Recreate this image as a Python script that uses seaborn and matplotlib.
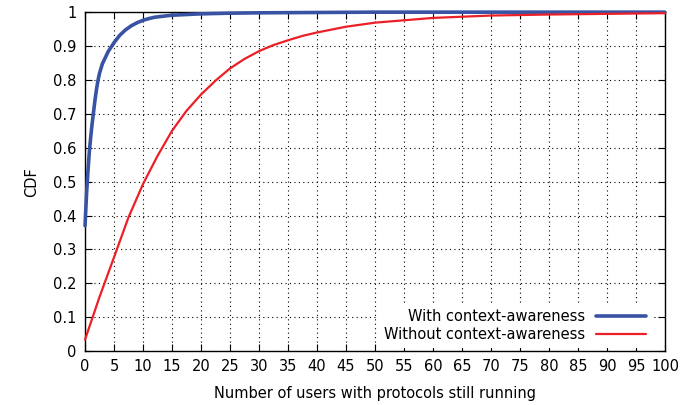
import numpy as np
import pandas as pd
import seaborn as sns
import matplotlib
matplotlib.use("Agg")
import matplotlib.pyplot as plt

# CDF
x_with = [0, 0.25, 0.5, 0.75, 1, 1.25, 1.5, 1.75, 2, 2.25, 2.5, 3, 3.5, 4, 5, 6, 7,
          8, 9, 10, 11, 12, 13, 15, 20, 25, 30, 40, 50, 60, 80, 100]
cdf_with = [0.37, 0.46, 0.53, 0.59, 0.635, 0.675, 0.71, 0.745, 0.775, 0.80, 0.82,
            0.848, 0.866, 0.884, 0.91, 0.932, 0.948, 0.96, 0.969, 0.976, 0.981,
            0.985, 0.987, 0.991, 0.995, 0.997, 0.998, 0.999, 1.0, 1.0, 1.0, 1.0]

x_without = [0, 2.5, 5, 7.5, 10, 12.5, 15, 17.5, 20, 22.5, 25, 27.5, 30, 32.5,
             35, 37.5, 40, 45, 50, 55, 60, 70, 80, 90, 100]
cdf_without = [0.034, 0.16, 0.277, 0.395, 0.493, 0.576, 0.65, 0.709, 0.757, 0.798,
               0.834, 0.862, 0.885, 0.903, 0.917, 0.93, 0.94, 0.957, 0.969, 0.976,
               0.983, 0.99, 0.993, 0.995, 0.997]

x_ticks = list(range(0, 101, 5))
y_ticks = [0, 0.1, 0.2, 0.3, 0.4, 0.5, 0.6, 0.7, 0.8, 0.9, 1.0]
y_tick_labels = ["0", "0.1", "0.2", "0.3", "0.4", "0.5", "0.6", "0.7", "0.8", "0.9", "1"]

df_with = pd.DataFrame({"users": x_with, "cdf": cdf_with})
df_without = pd.DataFrame({"users": x_without, "cdf": cdf_without})

sns.set_style("ticks")
plt.rcParams["font.family"] = ["DejaVu Sans"]
plt.rcParams["font.size"] = 10.5
plt.rcParams["text.color"] = "black"

fig = plt.figure(figsize=(6.97, 4.05), dpi=100)
ax = fig.add_axes([0.122, 0.133, 0.832, 0.837])

sns.lineplot(data=df_with, x="users", y="cdf", ax=ax, color="#3953a4", linewidth=2.6,
             label="With context-awareness", clip_on=False, zorder=3)
sns.lineplot(data=df_without, x="users", y="cdf", ax=ax, color="#ec1f26", linewidth=1.6,
             label="Without context-awareness", clip_on=False, zorder=3)

ax.set_xlim(0, 100)
ax.set_ylim(0, 1)
ax.set_xticks(x_ticks)
ax.set_xticklabels([str(t) for t in x_ticks])
ax.set_yticks(y_ticks)
ax.set_yticklabels(y_tick_labels)
ax.tick_params(direction="in", top=True, right=True, length=5, width=0.8,
               labelsize=10.5, colors="black", labelcolor="black", pad=6)
ax.grid(True, linestyle=(0, (1, 3)), color="black", linewidth=0.8)
for s in ax.spines.values():
    s.set_linewidth(1.0)
    s.set_color("black")

ax.set_xlabel("Number of users with protocols still running", fontsize=10.5,
              labelpad=8, color="black")
ax.set_ylabel("CDF", fontsize=10.5, labelpad=10, color="black")

leg = ax.legend(loc="lower right", markerfirst=False, frameon=True, fancybox=False,
                edgecolor="none", facecolor="white", framealpha=1, fontsize=10.5,
                handlelength=3.4, handletextpad=0.8, borderpad=0.4, labelspacing=0.2,
                bbox_to_anchor=(0.99, -0.012))
leg.set_zorder(5)
for t in leg.get_texts():
    t.set_color("black")

fig.savefig("out.png", dpi=100)
